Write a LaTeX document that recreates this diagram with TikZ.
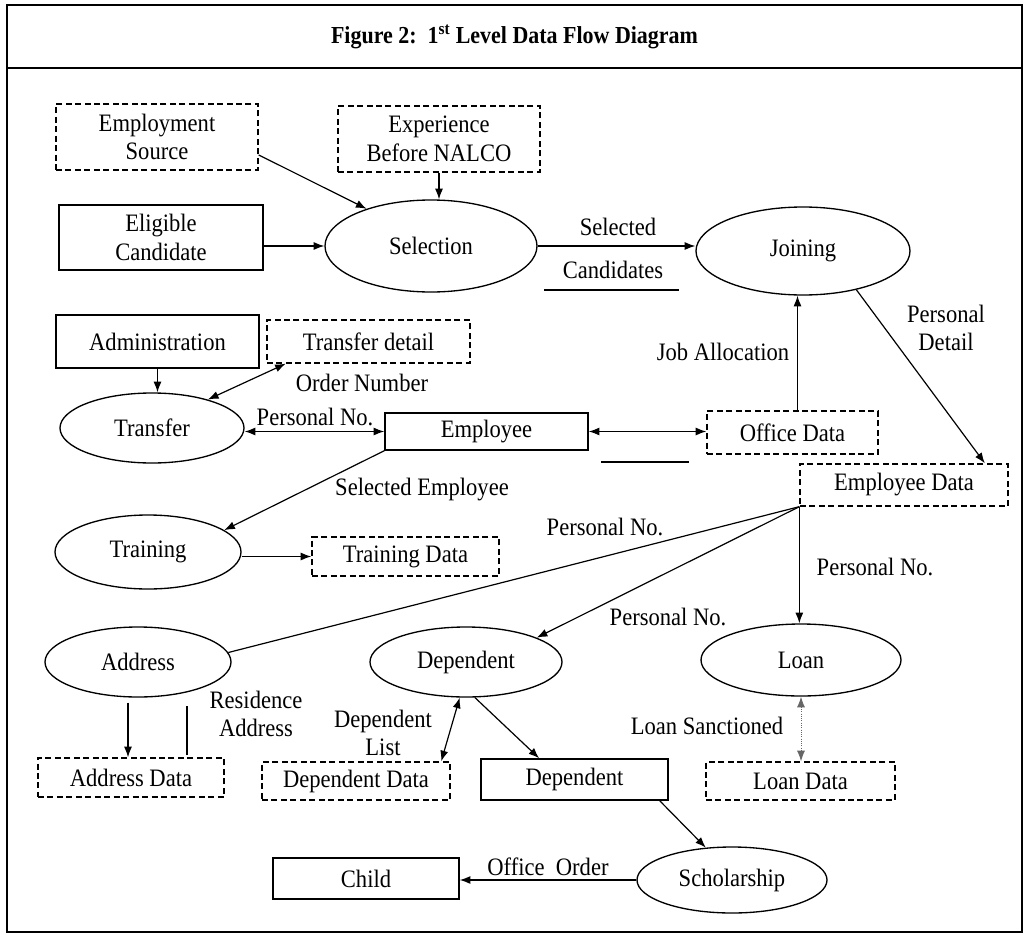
\documentclass[tikz,border=0pt]{standalone}
\usepackage{fontspec}
\setmainfont[FakeStretch=0.9]{Liberation Serif}
\usetikzlibrary{shapes.geometric,arrows.meta,calc}

\tikzset{
  px/.style 2 args={minimum width=#1*0.75pt, minimum height=#2*0.75pt},
  storebox/.style={draw, line width=1pt, dash pattern=on 4.5pt off 2.6pt, inner sep=0pt, align=center},
  entbox/.style={draw, line width=1.1pt, inner sep=0pt, align=center},
  procell/.style={draw, ellipse, line width=1pt, inner sep=0pt, align=center},
  lbl/.style={inner sep=0pt, align=center},
  arr/.style={-{Latex[length=8pt,width=6pt]}, line width=0.9pt},
  darr/.style={{Latex[length=8pt,width=6pt]}-{Latex[length=8pt,width=6pt]}, line width=0.9pt},
  faint/.style={{Latex[length=8pt,width=6pt]}-{Latex[length=8pt,width=6pt]}, line width=0.7pt, densely dotted, black!60}
}

\begin{document}
\begin{tikzpicture}[x=0.75pt,y=-0.75pt, font=\fontsize{18.8}{21.5}\selectfont]
\useasboundingbox (0,0) rectangle (1028,935);

% frame and title bar
\draw[line width=1.2pt] (7,5) rectangle (1022,932);
\draw[line width=1.2pt] (7,68) -- (1022,68);
\node[lbl, font=\fontsize{18.3}{21}\selectfont\bfseries] (title) at (514.5,37)
  {Figure 2:\ \ 1\textsuperscript{st} Level Data Flow Diagram};

% data stores
\node[storebox, px={202}{66}] (esrc) at (157,137) {Employment\\Source};
\node[storebox, px={202}{66}] (expr) at (439,139) {Experience\\Before NALCO};
\node[storebox, px={203}{43}] (tdet) at (368.5,341.5) {Transfer detail};
\node[storebox, px={187}{39}] (tdat) at (405.5,556.5) {Training Data};
\node[storebox, px={171}{43}] (ofc) at (792.5,432.5) {Office Data};
\node[storebox, px={208}{42}] (edat) at (904,485) {Employee Data};
\node[storebox, px={186}{39}] (adat) at (131,777.5) {Address Data};
\node[storebox, px={188}{38}] (ddat) at (356,781) {Dependent Data};
\node[storebox, px={189}{38}] (ldat) at (800.5,781) {Loan Data};

% external entities
\node[entbox, px={204}{65}] (elig) at (161,237.5) {Eligible\\Candidate};
\node[entbox, px={203}{53}] (admin) at (157.5,341.5) {Administration};
\node[entbox, px={203}{37}] (emp) at (486.5,431.5) {Employee};
\node[entbox, px={187}{41}] (depb) at (574.5,779.5) {Dependent};
\node[entbox, px={186}{41}] (child) at (366,878.5) {Child};

% processes
\node[procell, px={212}{92}] (sel) at (431,246) {Selection};
\node[procell, px={214}{88}] (join) at (803,251) {Joining};
\node[procell, px={184}{70}] (trans) at (152,428) {Transfer};
\node[procell, px={186}{74}] (train) at (148,552) {Training};
\node[procell, px={186}{70}] (addr) at (138,662) {Address};
\node[procell, px={192}{70}] (dep) at (466,662) {Dependent};
\node[procell, px={200}{72}] (loan) at (801,660) {Loan};
\node[procell, px={190}{66}] (schol) at (732,880) {Scholarship};

% flow labels
\node[lbl] (lsel) at (618,227) {Selected};
\node[lbl] (lcand) at (613,270) {Candidates};
\node[lbl] (ljob) at (723,352) {Job Allocation};
\node[lbl] (lpdet) at (946,328) {Personal\\Detail};
\node[lbl] (lord) at (362,383) {Order Number};
\node[lbl] (lpn1) at (315,417) {Personal No.};
\node[lbl] (lsemp) at (422,490) {Selected Employee};
\node[lbl] (lpn2) at (605,527) {Personal No.};
\node[lbl] (lpn3) at (875,567) {Personal No.};
\node[lbl] (lpn4) at (668,617) {Personal No.};
\node[lbl] (lres) at (256,714) {Residence\\Address};
\node[lbl] (ldl) at (383,733) {Dependent\\List};
\node[lbl] (lloan) at (707,726) {Loan Sanctioned};
\node[lbl] (loff) at (548,867) {Office\ \ Order};

% underlines
\draw[line width=1pt] (544,290) -- (679,290);
\draw[line width=1pt] (601,462) -- (689,462);

% flows into selection and joining
\draw[arr] (esrc.-10) -- (sel.150);
\draw[arr] (expr.south) -- (expr.south |- sel.north);
\draw[arr] (elig.east |- sel.west) -- (sel.west);
\draw[arr] (sel.east) -- (sel.east -| join.west);
\coordinate (jobfoot) at ($(ofc.north)+(5,0)$);
\draw[arr] (jobfoot) -- (jobfoot |- join.south);
\draw[arr] (join.-36) -- (edat.15.5);

% transfer and training
\draw[arr] (admin.south) -- (admin.south |- trans.north);
\draw[darr] (trans.27) -- (tdet.195);
\draw[darr] (trans.east |- emp.west) -- (emp.west);
\draw[darr] (emp.east) -- (emp.east -| ofc.west);
\draw[arr] (emp.south west) -- (train.16);
\draw[arr] (train.east |- tdat.west) -- (tdat.west);

% employee data fan-out
\draw[line width=0.9pt] (edat.south west) -- (addr.6);
\draw[arr] (edat.south west) -- (dep.19);
\draw[arr] (edat.south west) -- (edat.south west |- loan.north);

% address, dependent and loan details
\coordinate (addrfoot) at ($(addr.south)+(-10,5)$);
\draw[arr] (addrfoot) -- (addrfoot |- adat.north);
\coordinate (addrtick) at ($(adat.north)+(56,-2)$);
\draw[line width=0.9pt] (addrtick) -- ++(0,-49);
\draw[darr] (dep.-100) -- (ddat.13);
\draw[arr] (dep.-76) -- (depb.149);
\draw[arr] (depb.-14.5) -- (schol.129);
\draw[arr] (schol.west) -- (schol.west -| child.east);
\draw[faint] (loan.south) -- (loan.south |- ldat.north);
\end{tikzpicture}
\end{document}
